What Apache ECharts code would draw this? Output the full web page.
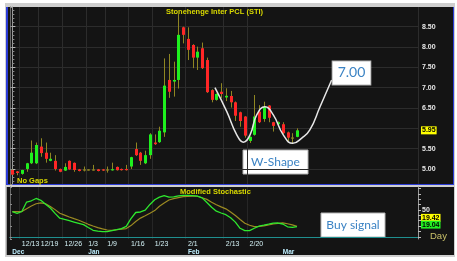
<!DOCTYPE html>
<html>
<head>
<meta charset="utf-8">
<script src="https://cdn.jsdelivr.net/npm/echarts@6/dist/echarts.min.js"></script>
<style>
html, body { margin: 0; padding: 0; background: #fff; }
#wrap { position: relative; width: 457px; height: 261px; overflow: hidden; }
.bg { position: absolute; box-sizing: border-box; }
#frame { left: 5px; top: 3px; width: 450px; height: 254px; background: #cfcfcf; }
#p1 { left: 6px; top: 7px; width: 448px; height: 178px; background: #141414; border: 1px solid #2b3bd6; border-left-width: 2px; border-top: none; }
#p2 { left: 6px; top: 187px; width: 448px; height: 68px; background: #141414; border-left: 1px solid #9a9a9a; }
#chart { position: absolute; left: 0; top: 0; width: 457px; height: 261px; }
</style>
</head>
<body>
<div id="wrap">
  <div class="bg" id="frame"></div>
  <div class="bg" id="p1"></div>
  <div class="bg" id="p2"></div>
  <div id="chart"></div>
</div>
<script>
// trading days shown on the chart, then the empty days to the right
var dates = ['12/8','12/9','12/13','12/14','12/15','12/16','12/19','12/20','12/21','12/22',
  '12/23','12/26','12/27','12/28','12/29','12/30','1/3','1/4','1/5','1/6',
  '1/9','1/10','1/11','1/12','1/13','1/16','1/17','1/18','1/19','1/20',
  '1/23','1/24','1/25','1/26','1/27','1/30','1/31','2/1','2/2','2/3',
  '2/6','2/7','2/8','2/9','2/10','2/13','2/14','2/15','2/16','2/17',
  '2/20','2/21','2/22','2/23','2/24','2/27','2/28','3/1','3/2','3/5','3/6'];
var futureDates = ['3/7','3/8','3/9','3/12','3/13','3/14','3/15','3/16','3/19','3/20',
  '3/21','3/22','3/23','3/26','3/27','3/28','3/29','3/30','4/2','4/3',
  '4/4','4/5','4/9','4/10','4/11'];

var weekLabels = ['12/13','12/19','12/26','1/3','1/9','1/16','1/23','2/1','2/13','2/20'];
var monthStarts = ['12/8','1/3','2/1','3/1'];
var monthLabels = ['Dec','Jan','Feb','Mar'];

var opens  = [4.975,4.94,4.88,5.00,5.14,5.14,5.55,5.40,5.20,5.20,
  5.00,4.96,5.20,5.15,4.99,4.975,4.975,4.975,4.99,4.99,
  4.975,4.97,5.05,5.00,5.00,5.06,5.49,5.40,5.14,5.34,
  5.65,5.66,5.90,7.19,7.15,7.19,8.485,8.20,8.05,7.74,
  7.97,7.68,6.94,6.70,6.90,6.76,6.795,6.64,6.395,6.29,
  5.69,5.84,6.41,6.23,6.56,6.15,6.10,6.10,5.90,5.76,5.79];
var closes = [4.86,4.90,4.975,5.14,5.40,5.59,5.39,5.25,5.25,5.00,
  4.93,5.05,4.99,4.975,4.95,4.975,4.975,4.975,4.95,4.96,
  4.975,4.99,4.97,4.97,4.97,5.29,5.34,5.20,5.34,5.85,
  5.61,5.94,7.05,6.90,7.19,8.30,8.30,7.93,7.74,7.885,
  7.48,6.89,6.70,6.845,6.845,6.80,6.64,6.31,6.18,5.82,
  5.79,6.29,6.15,6.53,6.26,6.06,6.15,5.88,5.77,5.76,5.95];
var lows   = [4.85,4.845,4.86,4.93,5.12,5.12,5.30,5.155,5.19,4.96,
  4.92,4.95,4.98,4.93,4.94,4.94,4.96,4.96,4.94,4.95,
  4.91,4.96,4.96,4.96,4.96,5.00,5.32,5.10,5.12,5.25,
  5.59,5.64,5.79,6.75,6.78,6.98,8.09,7.68,7.48,7.435,
  7.46,6.87,6.64,6.68,6.74,6.67,6.51,6.18,6.04,5.77,
  5.64,5.82,6.13,6.16,6.15,5.92,6.08,5.86,5.67,5.63,5.78];
var highs  = [4.99,4.95,4.98,5.15,5.70,5.65,5.755,5.65,5.40,5.34,
  5.01,5.14,5.21,5.16,5.00,5.06,4.99,5.10,5.00,5.00,
  5.06,5.155,5.06,5.01,5.10,5.30,5.65,5.42,5.45,5.88,
  5.85,6.04,7.72,7.83,7.64,8.82,8.50,8.485,8.07,8.01,
  8.11,7.74,6.96,6.86,7.11,6.985,6.92,6.66,6.41,6.30,
  5.80,6.82,6.57,6.655,6.57,6.16,6.17,6.15,5.92,5.88,6.00];

// Modified Stochastic: fast (green) and slow (olive) lines
var stochFast = [46.8,43.8,47.2,64.9,67.2,71.5,68.1,60.8,53.7,43.7,
  34.7,32.3,30.0,27.6,25.2,22.8,17.4,12.1,10.4,9.5,
  9.7,11.6,13.2,15.1,19.4,33.8,45.3,46.3,49.6,60.4,
  69.2,73.9,76.7,73.9,74.6,76.5,77.2,77.2,76.7,75.7,
  72.6,64.0,55.0,47.8,44.4,41.2,35.4,27.4,15.9,11.4,
  11.4,15.9,19.8,21.6,23.5,25.6,25.7,23.9,18.7,17.4,19.04];
var stochSlow = [46.8,46.8,47.0,52.4,57.5,61.6,63.2,61.6,56.7,50.7,
  44.0,40.5,36.9,33.8,30.8,27.2,23.3,20.1,17.2,14.7,
  12.7,11.9,13.2,14.4,15.3,20.9,28.5,34.9,39.2,44.0,
  48.9,56.9,63.1,68.7,71.3,73.1,74.8,75.2,75.7,75.7,
  72.8,69.8,64.6,59.7,55.8,52.1,46.3,39.6,32.3,25.4,
  21.5,19.0,19.6,20.3,22.0,23.9,25.0,26.1,24.4,22.2,19.42];

var priceTicks = [5, 5.5, 6, 6.5, 7, 7.5, 8, 8.5];
var priceLabels = [5, 5.5, 6.5, 7, 7.5, 8, 8.5];   // 6.00 sits under the last-price tag
var stochTicks = [0, 10, 20, 30, 40, 50, 60, 70, 80, 90];
var stochLabels = [50];

// hand-drawn W pattern (day index, price) and its target
var wShapeX = [42.7, 45.2, 47.3, 48.7, 50.1, 51.5, 53.25, 55.0, 57.1, 59.1, 61.0, 62.7, 64.85, 67.3];
var wShapeY = [7.0, 6.41, 5.84, 5.66, 5.84, 6.33, 6.53, 6.33, 5.84, 5.63, 5.76, 5.96, 6.53, 7.19];
var target = 7.00;

var categories = dates.concat(futureDates);
var weekIdx = weekLabels.map(function(d){ return dates.indexOf(d); });
var monthIdx = monthStarts.map(function(d){ return dates.indexOf(d); });
function isWeek(i){ return weekIdx.indexOf(i) >= 0; }
function isMonth(i){ return monthIdx.indexOf(i) >= 0; }

var candleData = [];
for (var i = 0; i < dates.length; i++) {
  candleData.push([i, opens[i], closes[i], lows[i], highs[i]]);
}
var wData = wShapeX.map(function(x, k){ return [x, wShapeY[k]]; });

var UP = '#1ef01e', DOWN = '#ff2626', WICK = '#8f8622';
var YELLOW = '#d9d900';
var GRID = '#2c2c2c';
var TEAL = '#1f8f8f';
var FONT = 'Liberation Sans';

function renderCandle(params, api) {
  var idx = api.value(0);
  var o = api.value(1), c = api.value(2), l = api.value(3), h = api.value(4);
  var pO = api.coord([idx, o]), pC = api.coord([idx, c]);
  var pL = api.coord([idx, l]), pH = api.coord([idx, h]);
  var x = Math.round(pO[0]) + 0.5;
  var top = Math.min(pO[1], pC[1]), bot = Math.max(pO[1], pC[1]);
  if (bot - top < 1.2) { top = (top + bot) / 2 - 0.6; bot = top + 1.2; }
  var col = c > o ? UP : (c < o ? DOWN : WICK);
  return {
    type: 'group',
    children: [
      { type: 'line', shape: { x1: x, y1: pH[1], x2: x, y2: pL[1] }, style: { stroke: WICK, lineWidth: 1 } },
      { type: 'rect', shape: { x: x - 1.5, y: top, width: 3, height: bot - top }, style: { fill: col } }
    ]
  };
}

var chart = echarts.init(document.getElementById('chart'), null, { renderer: 'canvas' });

var labelFont = { fontFamily: FONT, fontSize: 7, fontWeight: 'bold', color: '#e8e8e8' };

chart.setOption({
  animation: false,
  backgroundColor: 'transparent',
  title: [
    { text: 'Stonehenge Inter PCL (STI)', left: 166, top: 8, padding: 0,
      textStyle: { color: YELLOW, fontSize: 7.5, fontWeight: 'bold', fontFamily: FONT } },
    { text: 'No Gaps', left: 17, top: 177, padding: 0,
      textStyle: { color: YELLOW, fontSize: 7.5, fontWeight: 'bold', fontFamily: FONT } },
    { text: 'Modified Stochastic', left: 180, top: 188, padding: 0,
      textStyle: { color: YELLOW, fontSize: 7.5, fontWeight: 'bold', fontFamily: FONT } }
  ],
  grid: [
    { left: 10, right: 39, top: 7, height: 177 },
    { left: 10, right: 39, top: 187, height: 52 }
  ],
  xAxis: [
    { type: 'category', gridIndex: 0, data: categories, boundaryGap: true,
      axisLine: { show: false }, axisTick: { show: false }, axisLabel: { show: false },
      splitLine: { show: true, interval: isWeek, lineStyle: { color: GRID } } },
    { type: 'category', gridIndex: 1, data: categories, boundaryGap: true, position: 'bottom',
      axisLine: { lineStyle: { color: '#8c8c8c' } },
      axisTick: { interval: isWeek, length: 9, lineStyle: { color: TEAL } },
      axisLabel: { interval: isWeek, align: 'left', margin: 2, fontSize: 7, color: '#d4f2f6', fontFamily: FONT },
      splitLine: { show: true, interval: isWeek, lineStyle: { color: '#262626' } } },
    { type: 'category', gridIndex: 1, data: categories, boundaryGap: true, position: 'bottom', offset: 9,
      axisLine: { lineStyle: { color: TEAL } },
      axisTick: { interval: isMonth, length: 7, lineStyle: { color: TEAL } },
      axisLabel: { interval: isMonth, align: 'left', margin: 1, fontSize: 6.5, color: '#bfefff', fontFamily: FONT, fontWeight: 'bold',
        formatter: function(v){ return monthLabels[monthStarts.indexOf(v)] || ''; } },
      name: 'Day', nameLocation: 'end', nameGap: 12,
      nameTextStyle: { color: '#c9c16a', fontSize: 9.5, fontFamily: FONT } },
    { type: 'value', gridIndex: 0, min: -0.5, max: categories.length - 0.5, show: false }
  ],
  yAxis: [
    { type: 'value', gridIndex: 0, position: 'right', min: 4.63, max: 8.985, splitNumber: 8,
      axisLine: { show: true, lineStyle: { color: '#9a9a9a' } },
      axisTick: { show: true, customValues: priceTicks, length: 3, lineStyle: { color: '#bbbbbb' } },
      minorTick: { show: true, splitNumber: 5, length: 2, lineStyle: { color: '#8a8a8a' } },
      axisLabel: Object.assign({ customValues: priceLabels, margin: 4,
        formatter: function(v){ return v.toFixed(2); } }, labelFont),
      splitLine: { show: true, lineStyle: { color: GRID } } },
    { type: 'value', gridIndex: 1, position: 'right', min: -4.1, max: 92.9,
      axisLine: { show: true, lineStyle: { color: '#9a9a9a' } },
      axisTick: { show: true, customValues: stochTicks, length: 3, lineStyle: { color: '#bbbbbb' } },
      axisLabel: Object.assign({ customValues: stochLabels, margin: 4 }, labelFont),
      splitLine: { show: false } },
    { type: 'value', gridIndex: 0, position: 'left', min: 4.63, max: 8.985, splitNumber: 8,
      axisLine: { show: true, lineStyle: { color: '#6a6a6a' } },
      axisTick: { show: true, inside: true, length: 2, lineStyle: { color: '#8a8a8a' } },
      minorTick: { show: true, splitNumber: 5, length: 1, lineStyle: { color: '#6a6a6a' } },
      axisLabel: { show: false }, splitLine: { show: false } },
    { type: 'value', gridIndex: 1, position: 'left', min: -4.1, max: 92.9,
      axisLine: { show: true, lineStyle: { color: '#6a6a6a' } },
      axisTick: { show: true, inside: true, length: 2, lineStyle: { color: '#8a8a8a' } },
      axisLabel: { show: false }, splitLine: { show: false } }
  ],
  graphic: [
    { type: 'rect', shape: { x: 243, y: 150, width: 65, height: 24 },
      style: { fill: '#ffffff', stroke: '#b4b4b4', lineWidth: 1 } },
    { type: 'text', style: { x: 275.5, y: 162.5, text: 'W-Shape', fill: '#3b83c4',
      font: '12px Lato', align: 'center', verticalAlign: 'middle' } },
    { type: 'rect', shape: { x: 321, y: 213, width: 64, height: 24 },
      style: { fill: '#ffffff', stroke: '#b4b4b4', lineWidth: 1 } },
    { type: 'text', style: { x: 353, y: 225.5, text: 'Buy signal', fill: '#3b83c4',
      font: '12px Lato', align: 'center', verticalAlign: 'middle' } }
  ],
  series: [
    { name: 'STI', type: 'custom', xAxisIndex: 0, yAxisIndex: 0,
      data: candleData, encode: { x: 0, y: [1, 2, 3, 4] }, renderItem: renderCandle },
    { name: 'W', type: 'line', xAxisIndex: 3, yAxisIndex: 0, data: wData,
      smooth: 0.5, showSymbol: false, silent: true,
      lineStyle: { color: '#e6e6e6', width: 1.5 },
      endLabel: { show: true, formatter: function(){ return target.toFixed(2); },
        align: 'left', distance: 0, offset: [1, -7],
        color: '#3b83c4', fontSize: 14, fontFamily: 'Lato',
        backgroundColor: '#ffffff', borderColor: '#b4b4b4', borderWidth: 1, padding: [5, 5, 4, 5] },
      markLine: { silent: true, symbol: ['none', 'none'], lineStyle: { color: 'rgba(0,0,0,0)' },
        data: [{ yAxis: closes[closes.length - 1] }],
        label: { position: 'end', distance: 3, formatter: function(p){ return p.value.toFixed(2); },
          backgroundColor: '#ffff00', color: '#000', fontSize: 7, fontWeight: 'bold', fontFamily: FONT, padding: [1, 1, 0, 1] } } },
    { name: 'Slow', type: 'line', xAxisIndex: 1, yAxisIndex: 1, data: stochSlow,
      showSymbol: false, silent: true, lineStyle: { color: '#9b8a22', width: 1.2 },
      markLine: { silent: true, symbol: ['none', 'none'], lineStyle: { color: 'rgba(0,0,0,0)' },
        data: [{ yAxis: stochSlow[stochSlow.length - 1] }],
        label: { position: 'end', distance: 3, offset: [0, -8.5], formatter: function(p){ return p.value.toFixed(2); },
          backgroundColor: '#ffff00', color: '#000', fontSize: 7, fontWeight: 'bold', fontFamily: FONT, padding: [1, 1, 0, 1] } } },
    { name: 'Fast', type: 'line', xAxisIndex: 1, yAxisIndex: 1, data: stochFast,
      showSymbol: false, silent: true, lineStyle: { color: '#2ee82e', width: 1.3 },
      markLine: { silent: true, symbol: ['none', 'none'], lineStyle: { color: 'rgba(0,0,0,0)' },
        data: [{ yAxis: stochFast[stochFast.length - 1] }],
        label: { position: 'end', distance: 3, offset: [0, -2], formatter: function(p){ return p.value.toFixed(2); },
          backgroundColor: '#22ee22', color: '#000', fontSize: 7, fontWeight: 'bold', fontFamily: FONT, padding: [1, 1, 0, 1] } } }
  ]
});
</script>
</body>
</html>
